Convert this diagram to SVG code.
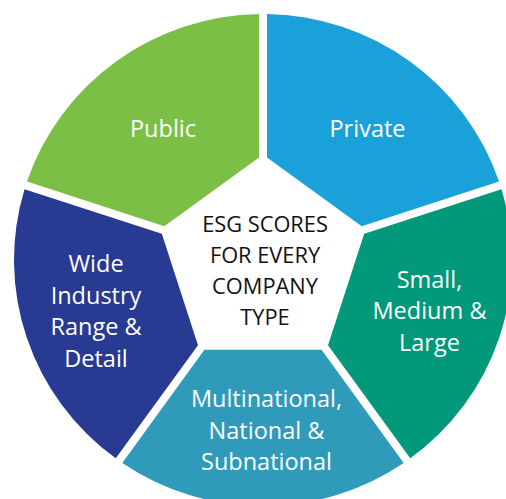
<svg xmlns="http://www.w3.org/2000/svg" width="506" height="499" viewBox="0 0 506 499">
  <style>
    .lbl { font-family: "Open Sans", "Noto Sans", "Liberation Sans", sans-serif; font-size: 23.5px; fill: #ffffff; text-anchor: middle; }
    .ctr { font-family: "Open Sans", "Noto Sans", "Liberation Sans", sans-serif; font-size: 21.8px; fill: #111111; text-anchor: middle; }
  </style>
  <rect width="506" height="499" fill="#ffffff"/>
  <g id="node-public">
    <path d="M259,157.41 L259,14.03 A249 246 0 0 0 26.97,181.61 L164.29,226.22 Z" fill="#7CBF46"/>
    <text class="lbl" x="163" y="137">Public</text>
  </g>
  <g id="node-private">
    <path d="M267,157.41 L267,14.03 A249 246 0 0 1 499.03,181.61 L361.71,226.22 Z" fill="#1BA1DA"/>
    <text class="lbl" x="367.5" y="137">Private</text>
  </g>
  <g id="node-size">
    <path d="M364.18,233.83 L501.47,189.22 A249 246 0 0 1 410.25,458.37 L328.01,345.17 Z" fill="#02997A"/>
    <text class="lbl" x="429.5" y="287.5">Small,</text>
    <text class="lbl" x="429.5" y="319">Medium &amp;</text>
    <text class="lbl" x="429.5" y="350.5">Large</text>
  </g>
  <g id="node-geography">
    <path d="M321.54,349.87 L403.70,462.96 A249 246 0 0 1 122.30,462.96 L204.46,349.87 Z" fill="#2F9ABA"/>
    <text class="lbl" x="266.5" y="407">Multinational,</text>
    <text class="lbl" x="266.5" y="438.5">National &amp;</text>
    <text class="lbl" x="266.5" y="470">Subnational</text>
  </g>
  <g id="node-industry">
    <path d="M161.82,233.83 L24.53,189.22 A249 246 0 0 0 115.75,458.37 L197.99,345.17 Z" fill="#283A92"/>
    <text class="lbl" x="96" y="272">Wide</text>
    <text class="lbl" x="96" y="303.5">Industry</text>
    <text class="lbl" x="96" y="335">Range &amp;</text>
    <text class="lbl" x="96" y="366.5">Detail</text>
  </g>
  <g id="node-center">
    <text class="ctr" x="265" y="232">ESG SCORES</text>
    <text class="ctr" x="265" y="263">FOR EVERY</text>
    <text class="ctr" x="265" y="294">COMPANY</text>
    <text class="ctr" x="265" y="325">TYPE</text>
  </g>
</svg>
